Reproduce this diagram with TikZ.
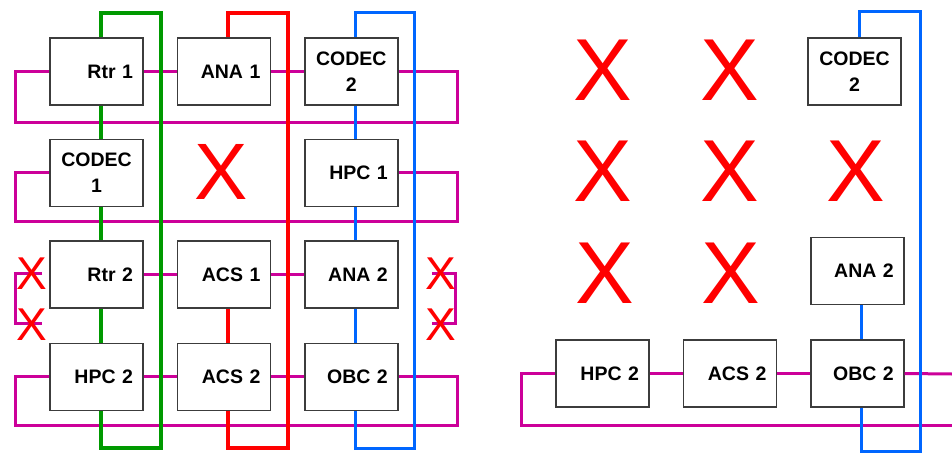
\documentclass[tikz,border=0pt]{standalone}
\usepackage{fontspec}
\setmainfont{Liberation Sans}
\usetikzlibrary{positioning}
\definecolor{magline}{RGB}{204,0,153}
\definecolor{grnline}{RGB}{0,153,0}
\definecolor{redline}{RGB}{255,0,0}
\definecolor{bluline}{RGB}{0,102,255}
\definecolor{boxline}{RGB}{60,60,60}
\begin{document}
\begin{tikzpicture}[
  x=1pt, y=-1pt,
  box/.style={draw=boxline, line width=1.4pt, fill=white, minimum width=93pt, minimum height=67pt,
    text width=73pt, inner xsep=10pt, inner ysep=0pt, align=right,
    font=\fontsize{19.5}{26}\selectfont\bfseries},
  cbox/.style={box, align=center},
  mag/.style={draw=magline, line width=3pt},
  grn/.style={draw=grnline, line width=4pt},
  rd/.style={draw=redline, line width=4pt},
  blu/.style={draw=bluline, line width=3pt},
  bigx/.style={text=redline, inner sep=0pt, font=\fontsize{80}{80}\selectfont},
  hugex/.style={text=redline, inner sep=0pt, font=\fontsize{88}{88}\selectfont},
  smallx/.style={text=redline, inner sep=0pt, font=\fontsize{46}{46}\selectfont}
]
\useasboundingbox (0,0) rectangle (952,452);
\node[box] (rtr1) at (96.5,71.5) {Rtr 1\hspace*{10pt}};
\node[box, right=33pt of rtr1] (ana1) {ANA 1};
\node[cbox, right=33pt of ana1] (codec2) {CODEC\\2};
\node[cbox, below=33pt of rtr1] (codec1) {CODEC\\1};
\node[box, below=33pt of codec2] (hpc1) {HPC 1};
\node[box, below=33pt of codec1] (rtr2) {Rtr 2\hspace*{10pt}};
\node[box, right=33pt of rtr2] (acs1) {ACS 1};
\node[box, right=33pt of acs1] (ana2) {ANA 2};
\node[box, below=34pt of rtr2] (hpc2) {HPC 2};
\node[box, right=33pt of hpc2] (acs2) {ACS 2};
\node[box, right=33pt of acs2] (obc2) {OBC 2};
\node[box] (rhpc2) at (602.5,373.5) {HPC 2};
\node[box, right=33pt of rhpc2] (racs2) {ACS 2};
\node[box, right=33pt of racs2] (robc2) {OBC 2};
\node[box, above=34pt of robc2] (rana2) {ANA 2};
\node[cbox] (rcodec2) at (854.5,71.5) {CODEC\\2};
\coordinate (m1a) at (15,122);
\coordinate (m1b) at (457,122);
\coordinate (m2a) at (15,221);
\coordinate (m2b) at (457,221);
\coordinate (m4a) at (15,425);
\coordinate (m4b) at (457,425);
\coordinate (sla) at (42,273);
\coordinate (slb) at (42,323);
\coordinate (sra) at (432,273);
\coordinate (srb) at (432,323);
\coordinate (rm4a) at (521,425);
\coordinate (rm4b) at (952,425);
\coordinate (rm4c) at (952,374);
\coordinate (gtop) at (161,13);
\coordinate (gbot) at (161,448);
\coordinate (rtop) at (288,13);
\coordinate (rbot) at (288,448);
\coordinate (btop) at (414,13);
\coordinate (bbot) at (414,448);
\coordinate (rbtop) at (920,12);
\coordinate (rbbot) at (920,451);
\draw[mag] (rtr1) -- (ana1) -- (codec2);
\draw[mag] (rtr1.west) -| (m1a) -- (m1b) |- (codec2.east);
\draw[mag] (codec1.west) -| (m2a) -- (m2b) |- (hpc1.east);
\draw[mag] (rtr2) -- (acs1) -- (ana2);
\draw[mag] (sla) -- ++(-27,0) |- (slb);
\draw[mag] (sra) -- ++(23,0) |- (srb);
\draw[mag] (hpc2) -- (acs2) -- (obc2);
\draw[mag] (hpc2.west) -| (m4a) -- (m4b) |- (obc2.east);
\draw[mag] (rhpc2) -- (racs2) -- (robc2);
\draw[mag] (rhpc2.west) -| (rm4a) -- (rm4b);
\draw[mag] (robc2.east) -- (rm4c);
\draw[grn] ([xshift=4pt]rtr1.south) -- ([xshift=4pt]codec1.north);
\draw[grn] ([xshift=4pt]codec1.south) -- ([xshift=4pt]rtr2.north);
\draw[grn] ([xshift=4pt]rtr2.south) -- ([xshift=4pt]hpc2.north);
\draw[grn] ([xshift=4pt]rtr1.north) |- (gtop) -- (gbot) -| ([xshift=4pt]hpc2.south);
\draw[rd] ([xshift=4.5pt]acs1.south) -- ([xshift=4.5pt]acs2.north);
\draw[rd] ([xshift=4.5pt]ana1.north) |- (rtop) -- (rbot) -| ([xshift=4.5pt]acs2.south);
\draw[blu] ([xshift=4.5pt]codec2.south) -- ([xshift=4.5pt]hpc1.north);
\draw[blu] ([xshift=4.5pt]hpc1.south) -- ([xshift=4.5pt]ana2.north);
\draw[blu] ([xshift=4.5pt]ana2.south) -- ([xshift=4.5pt]obc2.north);
\draw[blu] ([xshift=4.5pt]codec2.north) |- (btop) -- (bbot) -| ([xshift=4.5pt]obc2.south);
\draw[blu] ([xshift=4.5pt]rana2.south) -- ([xshift=4.5pt]robc2.north);
\draw[blu] ([xshift=4.5pt]rcodec2.north) |- (rbtop) -- (rbbot) -| ([xshift=4.5pt]robc2.south);
\node[bigx] (xmid) at (221,172) {X};
\node[smallx] (xla) at (32,274) {X};
\node[smallx] (xlb) at (32,325) {X};
\node[smallx] (xra) at (441,274) {X};
\node[smallx] (xrb) at (441,325) {X};
\node[hugex] (xr1a) at (603,70) {X};
\node[hugex] (xr1b) at (730,70) {X};
\node[hugex] (xr2a) at (603,171) {X};
\node[hugex] (xr2b) at (730,171) {X};
\node[hugex] (xr2c) at (856,171) {X};
\node[hugex] (xr3a) at (605,273) {X};
\node[hugex] (xr3b) at (731,273) {X};
\end{tikzpicture}
\end{document}
